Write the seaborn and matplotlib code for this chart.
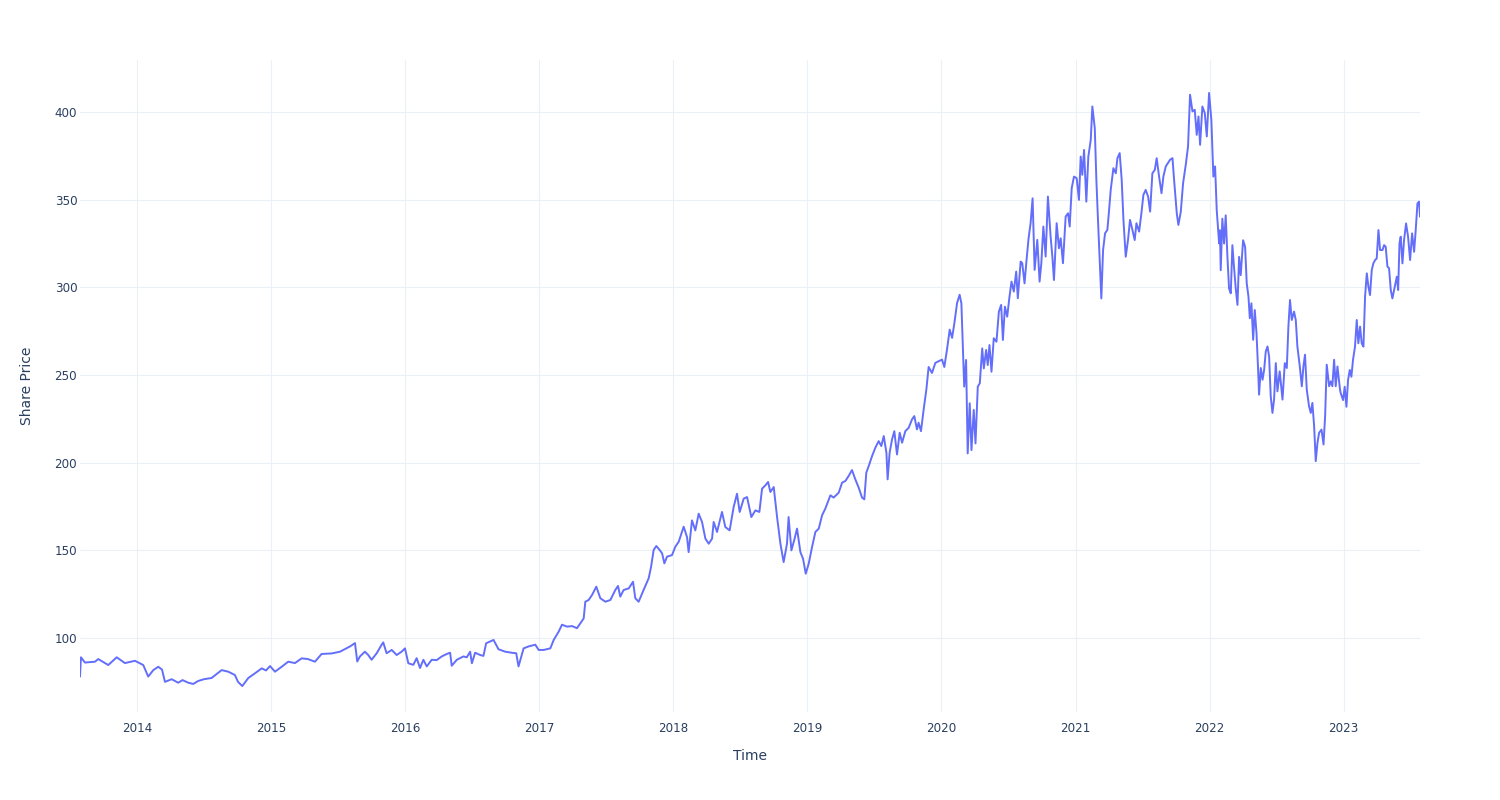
import numpy as np
import pandas as pd
import matplotlib
matplotlib.use("Agg")
import matplotlib.pyplot as plt
import matplotlib.dates as mdates
import seaborn as sns

# ---- data (time as decimal year, share price) ----
t_2013_2015 = [2013.575, 2013.582, 2013.612, 2013.687, 2013.711, 2013.786, 2013.849, 2013.910, 2013.985, 2014.047,
               2014.084, 2014.122, 2014.159, 2014.187, 2014.209, 2014.259, 2014.308, 2014.340, 2014.383, 2014.420,
               2014.457, 2014.500, 2014.557, 2014.632, 2014.681, 2014.731, 2014.754, 2014.786, 2014.831, 2014.881,
               2014.931, 2014.963, 2014.993, 2015.030, 2015.080, 2015.129, 2015.179, 2015.229, 2015.276, 2015.328,
               2015.378, 2015.453]
p_2013_2015 = [78, 89, 86, 86.5, 88, 84.6, 89, 85.7, 87, 84.6,
               78, 81.7, 83.6, 82, 75, 76.5, 74.5, 76, 74.5, 73.8,
               75.5, 76.5, 77.2, 81.7, 80.8, 78.9, 75, 72.6, 77.2, 79.9,
               82.7, 81.5, 84, 80.8, 83.6, 86.5, 85.7, 88.4, 88, 86.5,
               90.9, 91.2]

t_2015_2017 = [2015.515, 2015.590, 2015.627, 2015.644, 2015.664, 2015.701, 2015.726, 2015.751, 2015.789, 2015.826,
               2015.838, 2015.863, 2015.901, 2015.938, 2015.975, 2016.000, 2016.025, 2016.062, 2016.087, 2016.112,
               2016.137, 2016.162, 2016.199, 2016.236, 2016.274, 2016.311, 2016.336, 2016.348, 2016.386, 2016.435,
               2016.460, 2016.485, 2016.498, 2016.522, 2016.560, 2016.584, 2016.604, 2016.659, 2016.696, 2016.746,
               2016.796, 2016.828, 2016.845, 2016.883, 2016.920, 2016.970, 2016.995, 2017.032, 2017.082, 2017.107]
p_2015_2017 = [92.2, 95.2, 97.1, 86.6, 89.5, 92.2, 90.3, 87.6, 91.3, 96.2,
               97.5, 91.3, 93.2, 90.3, 92.2, 94.1, 85.6, 84.7, 88.5, 82.9,
               87.6, 83.8, 87.6, 87.4, 89.5, 90.9, 91.6, 84.2, 87.6, 89.5,
               89, 92.2, 85.6, 91.6, 90.3, 89.8, 97.0, 98.9, 93.6, 92.2,
               91.6, 91.3, 83.8, 94.1, 95.2, 96.2, 93.2, 93.2, 94.1, 98.9]

t_2017 = [2017.144, 2017.169, 2017.207, 2017.244, 2017.281, 2017.306, 2017.331, 2017.343, 2017.368, 2017.393,
          2017.425, 2017.455, 2017.493, 2017.530, 2017.567, 2017.587, 2017.604, 2017.629, 2017.667, 2017.699,
          2017.716, 2017.741, 2017.778, 2017.816, 2017.834, 2017.853, 2017.873, 2017.898, 2017.916, 2017.933,
          2017.953, 2017.990, 2018.015, 2018.040, 2018.077]
p_2017 = [103.6, 107.6, 106.5, 106.8, 105.6, 108.4, 111.2, 120.7, 121.7, 124.5,
          129.3, 122.7, 120.7, 121.7, 127.4, 129.7, 123.6, 127.4, 128.3, 132.1,
          122.7, 120.7, 127.4, 134.1, 140.7, 150.2, 152.5, 150.2, 148.3, 142.6,
          146.4, 147.3, 152.1, 154.9, 163.5]

t_2018 = [2018.102, 2018.114, 2018.139, 2018.164, 2018.189, 2018.214, 2018.239, 2018.264, 2018.289, 2018.301,
          2018.326, 2018.363, 2018.388, 2018.420, 2018.450, 2018.475, 2018.495, 2018.525, 2018.550, 2018.582,
          2018.612, 2018.642, 2018.662, 2018.687, 2018.707, 2018.724, 2018.749, 2018.774, 2018.799, 2018.823,
          2018.848, 2018.860, 2018.881, 2018.905, 2018.923, 2018.948, 2018.968, 2018.988, 2019.010, 2019.035,
          2019.060, 2019.085, 2019.110, 2019.134, 2019.172]
p_2018 = [157.6, 149, 167.1, 161.4, 170.9, 166.2, 156.7, 153.8, 156.7, 166.2,
          160.5, 171.9, 163.3, 161.4, 174.7, 182.3, 171.9, 179.5, 180.4, 169,
          172.8, 171.9, 185.2, 187.1, 189, 183.3, 186.1, 169, 153.8, 143.3,
          153.8, 169, 150, 156.7, 162.4, 149, 145.2, 136.7, 142.4, 151.9,
          160.5, 162.4, 170, 173.8, 181.4]

t_2019 = [2019.196, 2019.234, 2019.259, 2019.284, 2019.308, 2019.333, 2019.358, 2019.383, 2019.408, 2019.425,
          2019.440, 2019.458, 2019.483, 2019.507, 2019.532, 2019.552, 2019.570, 2019.590, 2019.599, 2019.614,
          2019.632, 2019.649, 2019.669, 2019.689, 2019.707, 2019.731, 2019.756, 2019.781, 2019.798, 2019.818,
          2019.830, 2019.848, 2019.868, 2019.888, 2019.905, 2019.930, 2019.955, 2019.980, 2020.005, 2020.022,
          2020.042, 2020.062, 2020.080, 2020.097, 2020.117, 2020.136]
p_2019 = [180.1, 182.9, 188.6, 189.6, 192.4, 195.8, 190.5, 185.8, 180.1, 179.1,
          194.3, 198.1, 203.8, 208.5, 212.3, 209.5, 215.2, 205.7, 190.5, 205.7,
          213.3, 218, 204.7, 217.1, 211.4, 218, 219.9, 224.7, 226.6, 219,
          222.8, 218, 230.4, 241.7, 254.6, 251.2, 256.9, 257.9, 258.8, 254.6,
          264.5, 275.9, 271.2, 279.7, 291.1, 295.8]

t_2020 = [2020.149, 2020.161, 2020.170, 2020.184, 2020.196, 2020.211, 2020.224, 2020.241, 2020.254, 2020.271,
          2020.286, 2020.304, 2020.316, 2020.333, 2020.345, 2020.358, 2020.373, 2020.390, 2020.410, 2020.428,
          2020.445, 2020.458, 2020.473, 2020.490, 2020.507, 2020.522, 2020.539, 2020.557, 2020.569, 2020.590,
          2020.602, 2020.619, 2020.634, 2020.649, 2020.664, 2020.679, 2020.694, 2020.714, 2020.731, 2020.744,
          2020.759, 2020.776, 2020.793, 2020.813, 2020.826, 2020.838, 2020.858, 2020.875, 2020.888, 2020.905,
          2020.925, 2020.943, 2020.955, 2020.970, 2020.987, 2021.007, 2021.024, 2021.037, 2021.049, 2021.062,
          2021.079, 2021.094, 2021.112]
p_2020 = [290.9, 264.3, 243.4, 258.6, 205.3, 233.9, 207.2, 230.1, 211, 243.4,
          245.3, 265.2, 253.8, 264.3, 255.7, 267.1, 251.9, 271, 269, 286.2,
          290, 270, 289, 283.3, 294.7, 303.3, 297.6, 309, 293.8, 314.7,
          313.8, 302.3, 315.7, 328, 336.6, 350.8, 310, 327.1, 303.3, 313.8,
          334.7, 317.6, 351.8, 329, 317.6, 304.2, 336.6, 322.3, 328, 313.8,
          340.4, 342.3, 334.7, 356.6, 363.2, 362.3, 349.9, 374.6, 364.2, 378.4,
          348.9, 374.6, 384.1]

t_2021 = [2021.124, 2021.142, 2021.154, 2021.166, 2021.179, 2021.191, 2021.204, 2021.219, 2021.236, 2021.248,
          2021.261, 2021.281, 2021.299, 2021.311, 2021.328, 2021.343, 2021.356, 2021.373, 2021.390, 2021.405,
          2021.423, 2021.440, 2021.453, 2021.473, 2021.490, 2021.505, 2021.522, 2021.540, 2021.555, 2021.572,
          2021.590, 2021.604, 2021.622, 2021.640, 2021.654, 2021.672, 2021.689, 2021.704, 2021.722, 2021.734,
          2021.754, 2021.766, 2021.784, 2021.801, 2021.821, 2021.838, 2021.853, 2021.871, 2021.888, 2021.903,
          2021.916, 2021.928, 2021.945, 2021.963, 2021.978, 2021.995, 2022.012, 2022.027, 2022.040, 2022.052,
          2022.070]
p_2021 = [403.2, 390.9, 361.3, 338.5, 315.6, 293.7, 321.3, 330.9, 332.8, 343.2,
          355.6, 368, 365.1, 373.7, 376.6, 361.3, 338.5, 317.5, 327, 338.5,
          332.8, 327, 336.6, 331.8, 342.3, 352.8, 355.6, 351.8, 343.2, 365.1,
          367, 373.7, 363.2, 353.7, 363.2, 369, 371, 372.8, 373.7, 361.3,
          342.3, 335.6, 343.2, 359.4, 369.9, 380.4, 409.9, 400.4, 401.3, 387,
          397.5, 381.3, 403.2, 399.4, 386.1, 410.9, 395.6, 363.2, 369, 344.2,
          325.1]

t_2022 = [2022.076, 2022.082, 2022.094, 2022.107, 2022.119, 2022.132, 2022.144, 2022.157, 2022.169, 2022.181,
          2022.194, 2022.207, 2022.219, 2022.231, 2022.249, 2022.264, 2022.276, 2022.289, 2022.299, 2022.311,
          2022.324, 2022.336, 2022.349, 2022.361, 2022.368, 2022.381, 2022.394, 2022.406, 2022.418, 2022.431,
          2022.443, 2022.455, 2022.468, 2022.480, 2022.493, 2022.505, 2022.522, 2022.543, 2022.560, 2022.575,
          2022.587, 2022.599, 2022.612, 2022.629, 2022.642, 2022.654, 2022.672, 2022.687, 2022.699, 2022.711,
          2022.724, 2022.741, 2022.754, 2022.766, 2022.779, 2022.791, 2022.804, 2022.816, 2022.834, 2022.849,
          2022.861, 2022.873, 2022.891, 2022.903, 2022.915, 2022.928, 2022.940, 2022.953, 2022.972]
p_2022 = [332.6, 309.8, 339.2, 325, 341.1, 317.4, 299.4, 296.6, 324.1, 311.7,
          299.4, 290, 317.4, 307, 326.9, 323.1, 302.3, 294.7, 282.4, 290.9,
          270.1, 287.1, 273.9, 253, 238.8, 254, 247.3, 253, 263.4, 266.3,
          260.6, 237.9, 228.4, 236, 256.8, 240.7, 252.1, 236, 256.8, 254,
          277.7, 292.8, 281.4, 286.2, 281.4, 266.3, 254.9, 243.6, 254.9, 261.6,
          241.7, 232.2, 228.4, 234.1, 220.8, 200.9, 211.4, 217, 218.9, 210.4,
          226.5, 255.9, 243.6, 246.4, 243.6, 258.7, 243.6, 254.9, 241.7]

t_2023 = [2022.978, 2022.995, 2023.007, 2023.020, 2023.032, 2023.045, 2023.057, 2023.069, 2023.084, 2023.097,
          2023.109, 2023.122, 2023.134, 2023.147, 2023.159, 2023.172, 2023.184, 2023.196, 2023.209, 2023.221,
          2023.234, 2023.246, 2023.259, 2023.271, 2023.289, 2023.301, 2023.313, 2023.326, 2023.338, 2023.351,
          2023.363, 2023.381, 2023.396, 2023.406, 2023.416, 2023.425, 2023.438, 2023.450, 2023.465, 2023.480,
          2023.495, 2023.510, 2023.525, 2023.537, 2023.550, 2023.562, 2023.569]
p_2023 = [239.5, 235.7, 243.3, 231.9, 247.1, 252.9, 249, 258.6, 266.2, 281.4,
          268.1, 277.6, 268.1, 266.2, 294.7, 308, 300.4, 295.6, 309.9, 313.7,
          315.6, 316.5, 332.7, 321.3, 321.3, 324.1, 323.2, 311.8, 311, 298.5,
          293.7, 300.4, 306.1, 298.5, 325.1, 328.9, 313.7, 327, 336.5, 328.9,
          315.6, 330.8, 320.3, 332.7, 347.9, 348.9, 340.3]

y_ticks = [100, 150, 200, 250, 300, 350, 400]
x_label = "Time"
y_label = "Share Price"

# ---- assemble ----
t_segments = [t_2013_2015, t_2015_2017, t_2017, t_2018, t_2019, t_2020, t_2021, t_2022, t_2023]
p_segments = [p_2013_2015, p_2015_2017, p_2017, p_2018, p_2019, p_2020, p_2021, p_2022, p_2023]
years = [v for seg in t_segments for v in seg]
prices = [v for seg in p_segments for v in seg]


def to_date(y):
    yr = int(np.floor(y))
    s = pd.Timestamp(year=yr, month=1, day=1)
    e = pd.Timestamp(year=yr + 1, month=1, day=1)
    return s + (e - s) * (y - yr)


df = pd.DataFrame({x_label: [to_date(y) for y in years], y_label: prices})

# ---- plot ----
sns.set_theme(style="white")
plt.rcParams["font.family"] = ["DejaVu Sans"]
text_color = "#2a3f5f"

fig = plt.figure(figsize=(15, 8), dpi=100)
ax = fig.add_axes([80 / 1500, 1 - 712 / 800, 1340 / 1500, 652 / 800])
sns.lineplot(data=df, x=x_label, y=y_label, color="#636EFA", linewidth=1.4,
             ax=ax, estimator=None, sort=False)

ax.set_xlim(df[x_label].min(), df[x_label].max())
ax.set_ylim(57.8, 429.7)
ax.set_yticks(y_ticks)
ax.xaxis.set_major_locator(mdates.YearLocator())
ax.xaxis.set_major_formatter(mdates.DateFormatter("%Y"))

ax.grid(True, color="#EBF0F8", linewidth=0.8)
ax.set_axisbelow(True)
for s in ax.spines.values():
    s.set_visible(False)
ax.tick_params(axis="both", length=0, labelsize=8.6, labelcolor=text_color)
ax.tick_params(axis="x", pad=7)
ax.tick_params(axis="y", pad=2)
ax.set_xlabel(x_label, fontsize=10, color=text_color, labelpad=10)
ax.set_ylabel(y_label, fontsize=10, color=text_color, labelpad=15)

fig.savefig("out.png", dpi=100, facecolor="white")
